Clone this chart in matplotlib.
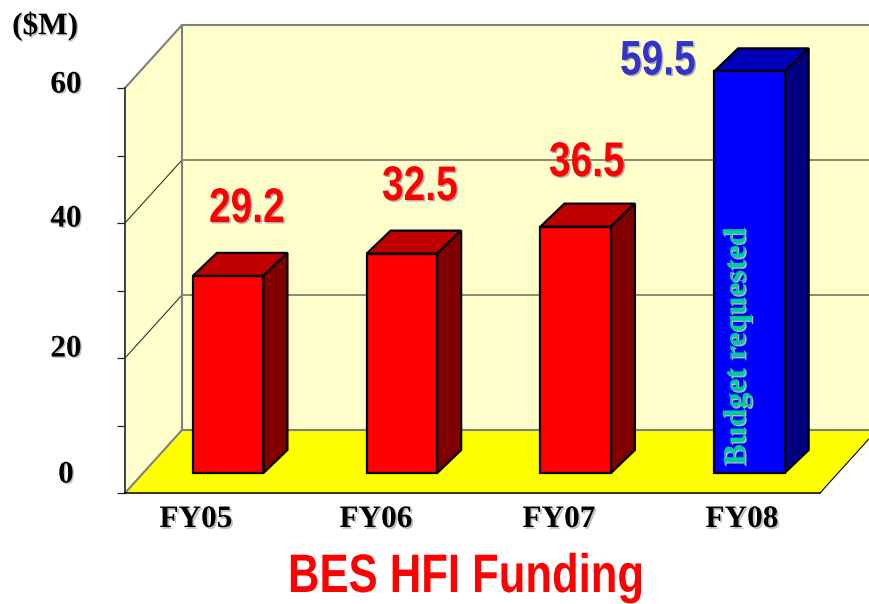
import matplotlib
matplotlib.use('Agg')
import matplotlib.pyplot as plt
import matplotlib.patheffects as pe
from matplotlib.colors import to_rgba
from matplotlib.patches import Polygon
from matplotlib.transforms import Affine2D

years = ['FY05', 'FY06', 'FY07', 'FY08']
funding = [29.2, 32.5, 36.5, 59.5]
value_labels = ['29.2', '32.5', '36.5', '59.5']
y_ticks = [0, 10, 20, 30, 40, 50, 60]
y_labels = ['0', '20', '40', '60']

W, H = 870, 604
SERIF = 'Liberation Serif'
SANS = 'Liberation Sans'


class Narrow(pe.AbstractPathEffect):
    # no narrow arial here, so squeeze the glyphs sideways and keep them real text
    def __init__(self, sx=0.8, dist=0, col='#b0b0b0'):
        super().__init__()
        self.sx = sx
        self.dist = dist
        self.col = to_rgba(col)

    def draw_path(self, renderer, gc, tpath, affine, rgbFace=None):
        squeezed = Affine2D().scale(self.sx, 1) + affine
        if self.dist:
            gc0 = renderer.new_gc()
            gc0.copy_properties(gc)
            gc0.set_linewidth(0)
            renderer.draw_path(gc0, tpath, squeezed + Affine2D().translate(self.dist, -self.dist), self.col)
            gc0.restore()
        renderer.draw_path(gc, tpath, squeezed, rgbFace)


def shadow(dist=1.5, col='#b0b0b0'):
    return [pe.withSimplePatchShadow(offset=(dist, -dist), shadow_rgbFace=col, alpha=1.0)]


def label(x, y, s, ha='center', **kw):
    # text is placed in picture pixels, the labels do not follow the ticks in the original
    fig.text(x / W, 1 - y / H, s, ha=ha, va='center', **kw)


fig = plt.figure(figsize=(W / 100, H / 100), dpi=100, facecolor='white')
ax = fig.add_axes([125 / W, 1 - 493 / H, 695 / W, 405 / H])
ax.set_xlim(-0.5, 3.5)
ax.set_ylim(0, 60)
ax.patch.set_visible(False)

# depth of the box and of the bars, in data units
dx, dy = 57 / 173.75, 63 / 6.75
bar_w = 70.5 / 173.75
bar_dx, bar_dy = 24 / 173.75, 23 / 6.75
bar_x0, bar_y0 = 16.3 / 173.75, 20 / 6.75

x0, x1 = -0.5, 3.5
wall = '#FFFFCC'
gray = '#808080'


def poly(pts, **kw):
    ax.add_patch(Polygon(pts, closed=True, clip_on=False, **kw))


# side wall, back wall, floor
poly([(x0, 0), (x0 + dx, dy), (x0 + dx, 60 + dy), (x0, 60)], fc=wall, ec='none', zorder=1)
poly([(x0 + dx, dy), (x1 + dx, dy), (x1 + dx, 60 + dy), (x0 + dx, 60 + dy)], fc=wall, ec='none', zorder=1)
poly([(x0, 0), (x1, 0), (x1 + dx, dy), (x0 + dx, dy)], fc='#FFFF00', ec='none', zorder=1.5)

# gridlines on both walls
for v in [20, 40]:
    ax.plot([x0, x0 + dx, x1 + dx], [v, v + dy, v + dy], color='#333333', lw=0.8, clip_on=False, zorder=2)

ax.plot([x0 + dx, x0 + dx], [dy, 60 + dy], color=gray, lw=1.5, clip_on=False, zorder=2)
ax.plot([x0, x0 + dx, x1 + dx], [60, 60 + dy, 60 + dy], color=gray, lw=1.5, clip_on=False, zorder=2)
ax.plot([x0, x0 + dx, x1 + dx], [0, dy, dy], color=gray, lw=1.5, clip_on=False, zorder=2)
ax.plot([x1, x1 + dx], [0, dy], color='black', lw=0.8, clip_on=False, zorder=2)

# bars
for i, val in enumerate(funding):
    if i == 3:
        front, top, side = '#0000FF', '#0000B8', '#000080'
    else:
        front, top, side = '#FF0000', '#BF0000', '#800000'
    xl = i + bar_x0 - bar_w / 2
    xr = i + bar_x0 + bar_w / 2
    y_top = bar_y0 + val
    ax.bar(i + bar_x0, val, width=bar_w, bottom=bar_y0, color=front, edgecolor='black', linewidth=1.6,
           zorder=4, clip_on=False)
    poly([(xl, y_top), (xr, y_top), (xr + bar_dx, y_top + bar_dy), (xl + bar_dx, y_top + bar_dy)],
         fc=top, ec='black', lw=1.6, zorder=3, joinstyle='miter')
    poly([(xr, bar_y0), (xr + bar_dx, bar_y0 + bar_dy), (xr + bar_dx, y_top + bar_dy), (xr, y_top)],
         fc=side, ec='black', lw=1.6, zorder=3, joinstyle='miter')

# axis lines and ticks
for s in ['top', 'right']:
    ax.spines[s].set_visible(False)
ax.spines['left'].set_color('#333333')
ax.spines['left'].set_linewidth(1.3)
ax.spines['left'].set_zorder(3)
ax.spines['bottom'].set_color('black')
ax.spines['bottom'].set_linewidth(1.1)
ax.spines['bottom'].set_zorder(3)
ax.set_xticks([])
ax.set_yticks(y_ticks)
ax.set_yticklabels([])
ax.tick_params(axis='y', length=5.8, width=0.9, color='#222222', direction='out')

# text
label(45, 26, '($M)', family=SERIF, weight='bold', fontsize=22.5, color='black', path_effects=shadow(1, '#c0c0c0'))
for y, s in zip([475, 349, 219, 85], y_labels):
    label(66, y, s, family=SERIF, weight='bold', fontsize=22.5, color='black', path_effects=shadow(1, '#c0c0c0'))
for x, s in zip([196, 376, 559, 742], years):
    label(x, 519.5, s, family=SERIF, weight='bold', fontsize=22.5, color='black', path_effects=shadow(1.3, '#c0c0c0'))

for x, y, s in zip([209, 382, 549], [209.5, 187.5, 163.5], value_labels[:3]):
    label(x, y, s, ha='left', family=SANS, weight='bold', fontsize=35, color='#FF0000',
          path_effects=[Narrow(0.8, 1.5)])
label(620, 62, value_labels[3], ha='left', family=SANS, weight='bold', fontsize=35, color='#3333CC',
      path_effects=[Narrow(0.8, 1.5)])

label(737.5, 346, 'Budget requested', family=SERIF, weight='bold', fontsize=23, color='#00CC99',
      rotation=90, path_effects=shadow(1, '#a8b8c8'))

label(288, 578, 'BES HFI Funding', ha='left', family=SANS, weight='bold', fontsize=39, color='#FF0000',
      path_effects=[Narrow(0.805)])

fig.savefig('out.png', dpi=100, facecolor='white')
plt.close(fig)
